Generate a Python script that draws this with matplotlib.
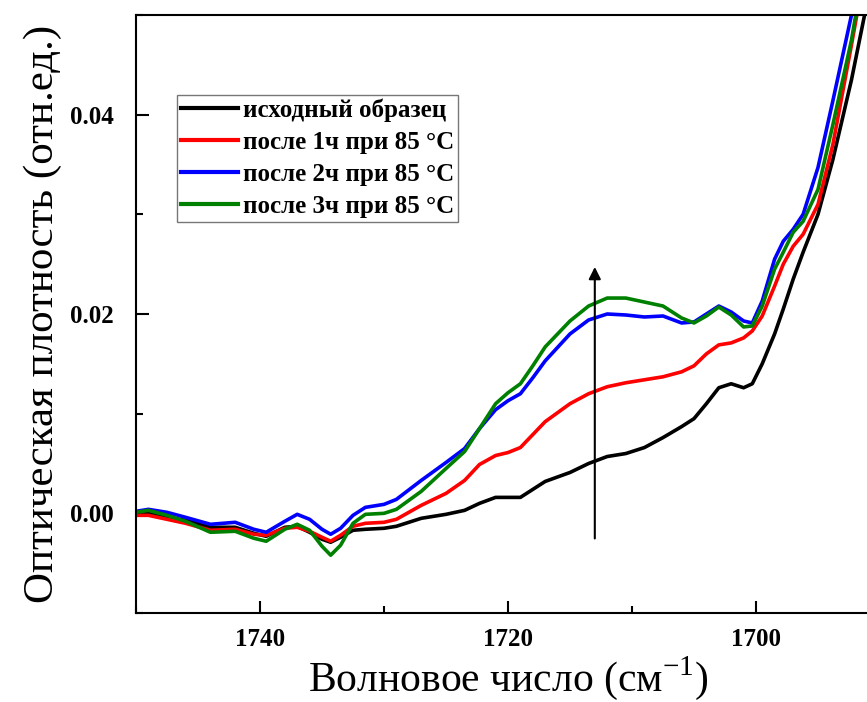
import matplotlib
matplotlib.use('Agg')
import matplotlib.pyplot as plt
from matplotlib.ticker import MultipleLocator

plt.rcParams['font.family'] = ['Liberation Serif', 'DejaVu Serif']
plt.rcParams['mathtext.fontset'] = 'custom'
plt.rcParams['mathtext.rm'] = 'Liberation Serif'

# wavenumber grid (cm-1)
wavenumber = [1750, 1749, 1747.5, 1746, 1744, 1742, 1740.5, 1739.5, 1738, 1737,
              1736, 1735, 1734.3, 1733.5, 1732.5, 1731.5, 1730, 1729, 1727, 1725,
              1723.5, 1722.3, 1721, 1720, 1719, 1718, 1717, 1715, 1713.5, 1712,
              1710.5, 1709, 1707.5, 1706, 1705, 1704, 1703, 1702, 1701, 1700.3,
              1699.5, 1698.5, 1697.8, 1697, 1696.2, 1695, 1693.8, 1692.3, 1691, 1690]

initial = [0.0000, 0.0001, -0.0004, -0.0007, -0.0014, -0.0014, -0.0020, -0.0023, -0.0014, -0.0013,
           -0.0019, -0.0026, -0.0029, -0.0024, -0.0017, -0.0016, -0.0015, -0.0013, -0.0005, -0.0001,
           0.0003, 0.0010, 0.0016, 0.0016, 0.0016, 0.0024, 0.0032, 0.0041, 0.0050, 0.0057,
           0.0060, 0.0066, 0.0076, 0.0087, 0.0095, 0.0110, 0.0126, 0.0130, 0.0126, 0.0130,
           0.0150, 0.0180, 0.0205, 0.0235, 0.0262, 0.0300, 0.0355, 0.0435, 0.0515, 0.0580]

after_1h = [-0.0002, -0.0002, -0.0006, -0.0010, -0.0017, -0.0016, -0.0021, -0.0022, -0.0015, -0.0014,
            -0.0018, -0.0024, -0.0028, -0.0022, -0.0013, -0.0010, -0.0009, -0.0006, 0.0008, 0.0020,
            0.0033, 0.0049, 0.0058, 0.0061, 0.0066, 0.0079, 0.0092, 0.0110, 0.0120, 0.0127,
            0.0131, 0.0134, 0.0137, 0.0142, 0.0148, 0.0160, 0.0169, 0.0171, 0.0176, 0.0183,
            0.0198, 0.0228, 0.0250, 0.0268, 0.0280, 0.0310, 0.0370, 0.0470, 0.0560, 0.0620]

after_2h = [0.0002, 0.0004, 0.0001, -0.0004, -0.0011, -0.0009, -0.0016, -0.0019, -0.0008, -0.0001,
            -0.0006, -0.0016, -0.0021, -0.0015, -0.0002, 0.0006, 0.0009, 0.0014, 0.0033, 0.0051,
            0.0065, 0.0085, 0.0104, 0.0113, 0.0120, 0.0136, 0.0153, 0.0180, 0.0194, 0.0200,
            0.0199, 0.0197, 0.0198, 0.0191, 0.0192, 0.0200, 0.0208, 0.0202, 0.0193, 0.0191,
            0.0213, 0.0255, 0.0273, 0.0285, 0.0300, 0.0347, 0.0414, 0.0500, 0.0580, 0.0640]

after_3h = [0.0001, 0.0003, -0.0002, -0.0008, -0.0019, -0.0018, -0.0025, -0.0028, -0.0016, -0.0011,
            -0.0017, -0.0033, -0.0042, -0.0032, -0.0010, -0.0001, 0.0000, 0.0004, 0.0022, 0.0045,
            0.0062, 0.0085, 0.0110, 0.0121, 0.0130, 0.0148, 0.0167, 0.0193, 0.0208, 0.0216,
            0.0216, 0.0212, 0.0208, 0.0196, 0.0191, 0.0198, 0.0207, 0.0199, 0.0187, 0.0188,
            0.0208, 0.0245, 0.0262, 0.0282, 0.0293, 0.0325, 0.0390, 0.0475, 0.0570, 0.0630]

labels = ['исходный образец', 'после 1ч при 85 °C', 'после 2ч при 85 °C', 'после 3ч при 85 °C']
colors = ['black', 'red', 'blue', 'green']

fig = plt.figure(figsize=(8.67, 7.02), dpi=100)
ax = fig.add_axes([136/867, 1 - 613/702, (880-136)/867, (613-15)/702])

for y, lab, c in zip([initial, after_1h, after_2h, after_3h], labels, colors):
    ax.plot(wavenumber, y, color=c, lw=2.6, label=lab, solid_joinstyle='round')

ax.annotate('', xy=(1713.0, 0.0250), xytext=(1713.0, -0.0028),
            arrowprops=dict(arrowstyle='-|>', color='black', lw=1.5, mutation_scale=18))

ax.set_xlim(1750, 1690)
ax.set_ylim(-0.01, 0.05)
ax.xaxis.set_major_locator(MultipleLocator(20))
ax.xaxis.set_minor_locator(MultipleLocator(10))
ax.yaxis.set_major_locator(MultipleLocator(0.02))
ax.yaxis.set_minor_locator(MultipleLocator(0.01))
ax.yaxis.set_major_formatter(plt.FormatStrFormatter('%.2f'))
ax.tick_params(which='both', direction='in', width=1.5, labelsize=18)
ax.tick_params(axis='x', which='both', pad=11)
ax.tick_params(axis='y', which='both', pad=16)
ax.tick_params(which='major', length=9)
ax.tick_params(which='minor', length=5)
for t in ax.get_xticklabels() + ax.get_yticklabels():
    t.set_fontweight('bold')
for s in ax.spines.values():
    s.set_linewidth(1.5)

ax.set_xlabel('Волновое число (см$^{\\mathregular{-1}}$)', fontsize=30, labelpad=2)
ax.set_ylabel('Оптическая плотность (отн.ед.)', fontsize=31, labelpad=6)

leg = ax.legend(loc='upper left', bbox_to_anchor=(0.055, 0.867), fancybox=False,
                prop={'weight': 'bold', 'size': 18}, handlelength=2.3, handletextpad=0.2,
                labelspacing=0.36, borderpad=0.15, borderaxespad=0)
leg.get_frame().set_edgecolor('#555555')
leg.get_frame().set_linewidth(1.0)
for line in leg.get_lines():
    line.set_linewidth(3)

fig.savefig('out.png', dpi=100)
